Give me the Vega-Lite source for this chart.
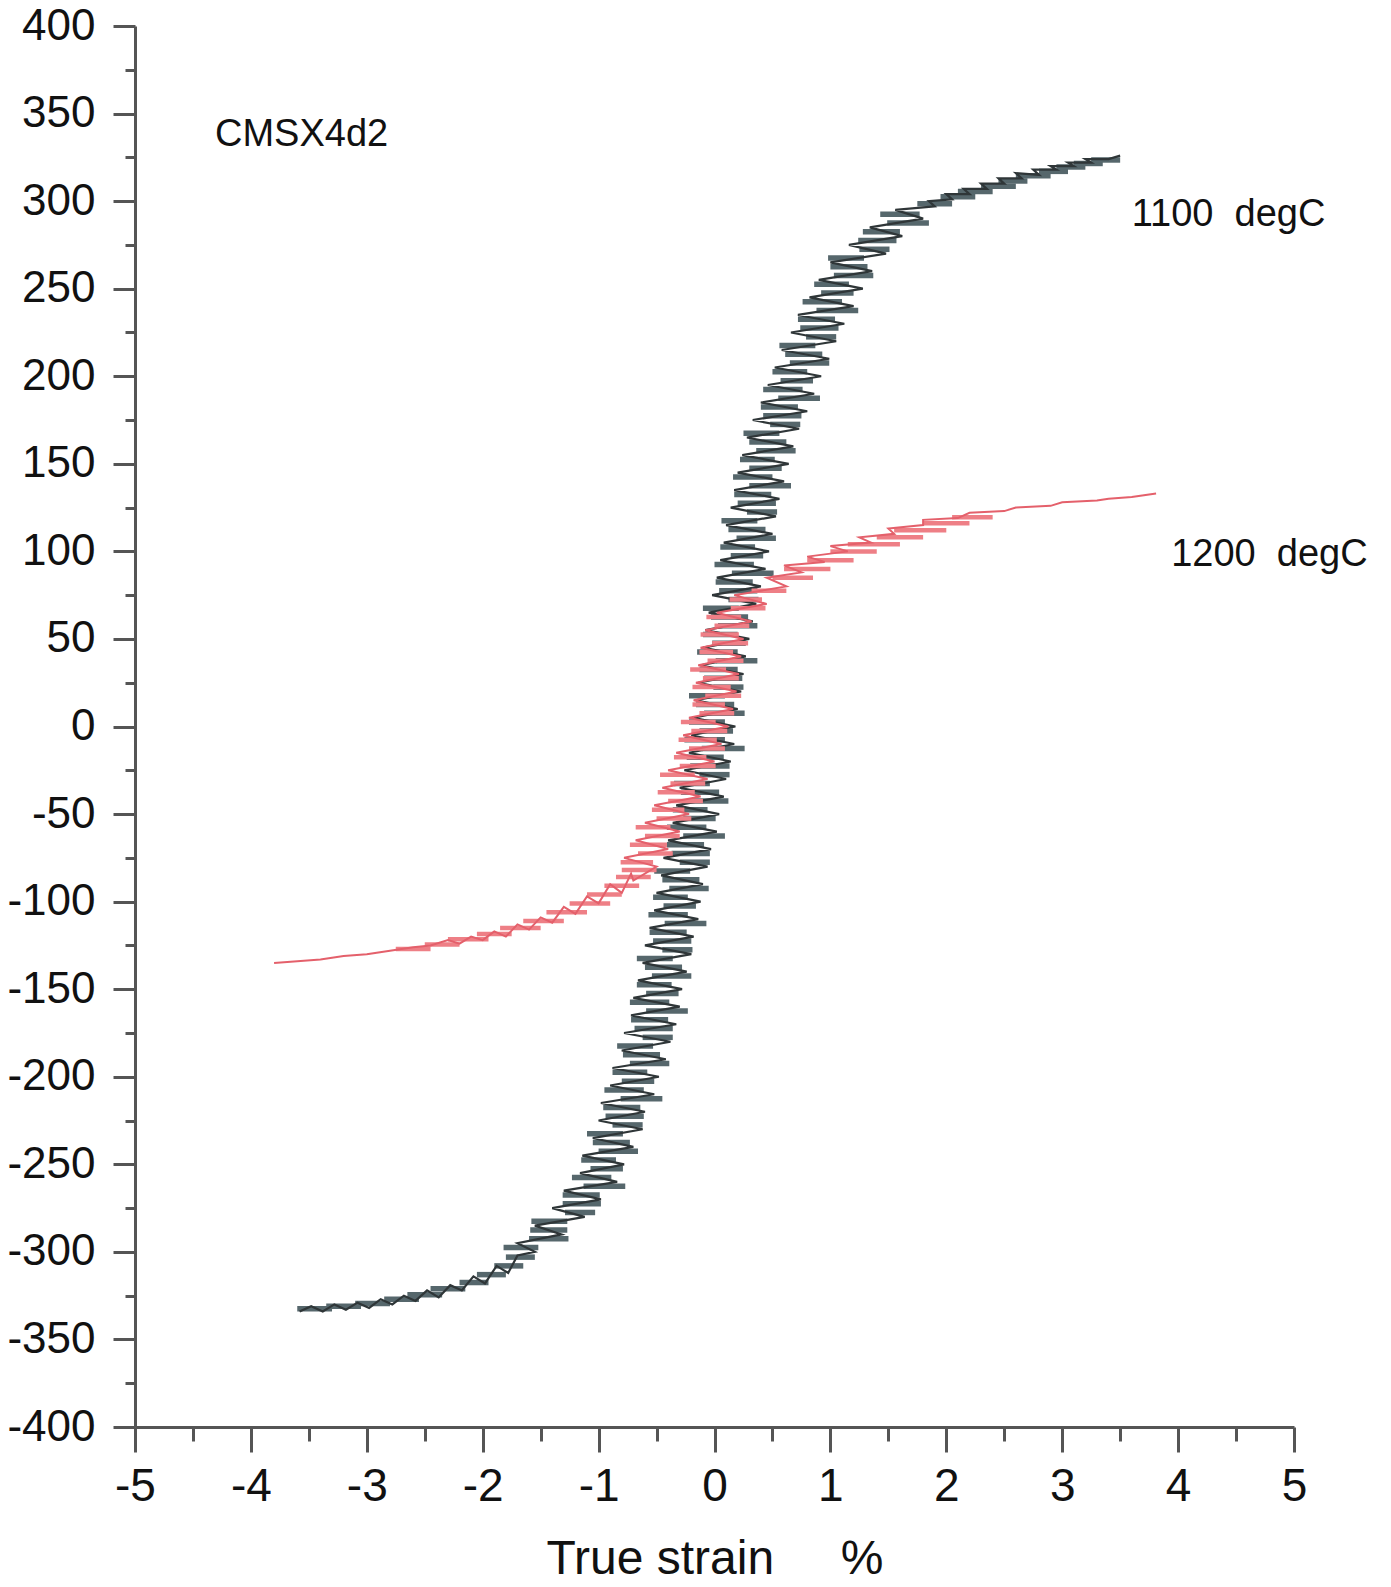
{
  "$schema": "https://vega.github.io/schema/vega-lite/v6.json",
  "autosize": {"type": "none"},
  "padding": {"left": 135, "top": 26, "right": 97, "bottom": 160},
  "width": 1159,
  "height": 1401,
  "background": "#ffffff",
  "config": {"view": {"stroke": null}, "font": "Liberation Sans"},
  "datasets": {
    "c1100": [
      {"x":-3.58,"y":-334},{"x":-3.48,"y":-331},{"x":-3.38,"y":-334},{"x":-3.28,"y":-330},{"x":-3.18,"y":-333},{"x":-3.08,"y":-329},{"x":-2.98,"y":-332},{"x":-2.88,"y":-327},{"x":-2.78,"y":-330},{"x":-2.68,"y":-325},{"x":-2.58,"y":-328},{"x":-2.48,"y":-322},{"x":-2.38,"y":-326},{"x":-2.28,"y":-319},{"x":-2.18,"y":-322},{"x":-2.08,"y":-314},{"x":-1.98,"y":-318},{"x":-1.88,"y":-308},{"x":-1.78,"y":-312},{"x":-1.70,"y":-302},
      {"x":-1.55,"y":-300},{"x":-1.70,"y":-295},{"x":-1.32,"y":-290},{"x":-1.55,"y":-285},{"x":-1.12,"y":-280},{"x":-1.40,"y":-275},{"x":-0.98,"y":-270},{"x":-1.30,"y":-265},{"x":-0.84,"y":-260},{"x":-1.16,"y":-255},
      {"x":-0.78,"y":-250},{"x":-1.14,"y":-245},{"x":-0.70,"y":-240},{"x":-1.05,"y":-235},{"x":-0.62,"y":-230},{"x":-1.00,"y":-225},{"x":-0.60,"y":-220},{"x":-0.98,"y":-215},{"x":-0.52,"y":-210},{"x":-0.90,"y":-205},
      {"x":-0.48,"y":-200},{"x":-0.88,"y":-195},{"x":-0.42,"y":-190},{"x":-0.80,"y":-185},{"x":-0.38,"y":-180},{"x":-0.78,"y":-175},{"x":-0.33,"y":-170},{"x":-0.72,"y":-165},{"x":-0.30,"y":-160},{"x":-0.70,"y":-155},
      {"x":-0.28,"y":-150},{"x":-0.66,"y":-145},{"x":-0.24,"y":-140},{"x":-0.62,"y":-135},{"x":-0.20,"y":-130},{"x":-0.60,"y":-125},{"x":-0.18,"y":-120},{"x":-0.56,"y":-115},{"x":-0.14,"y":-110},{"x":-0.52,"y":-105},
      {"x":-0.12,"y":-100},{"x":-0.50,"y":-95},{"x":-0.10,"y":-90},{"x":-0.46,"y":-85},{"x":-0.06,"y":-80},{"x":-0.44,"y":-75},{"x":-0.03,"y":-70},{"x":-0.40,"y":-65},{"x":0.02,"y":-60},{"x":-0.36,"y":-55},
      {"x":0.04,"y":-50},{"x":-0.33,"y":-45},{"x":0.08,"y":-40},{"x":-0.30,"y":-35},{"x":0.10,"y":-30},{"x":-0.26,"y":-25},{"x":0.14,"y":-20},{"x":-0.22,"y":-15},{"x":0.17,"y":-10},{"x":-0.20,"y":-5},
      {"x":0.18,"y":0},{"x":-0.18,"y":5},{"x":0.20,"y":10},{"x":-0.16,"y":15},{"x":0.23,"y":20},{"x":-0.14,"y":25},{"x":0.25,"y":30},{"x":-0.12,"y":35},{"x":0.27,"y":40},{"x":-0.10,"y":45},
      {"x":0.30,"y":50},{"x":-0.08,"y":55},{"x":0.33,"y":60},{"x":-0.05,"y":65},{"x":0.36,"y":70},{"x":-0.02,"y":75},{"x":0.40,"y":80},{"x":0.02,"y":85},{"x":0.44,"y":90},{"x":0.05,"y":95},
      {"x":0.47,"y":100},{"x":0.08,"y":105},{"x":0.50,"y":110},{"x":0.10,"y":115},{"x":0.53,"y":120},{"x":0.14,"y":125},{"x":0.56,"y":130},{"x":0.17,"y":135},{"x":0.60,"y":140},{"x":0.20,"y":145},
      {"x":0.64,"y":150},{"x":0.24,"y":155},{"x":0.68,"y":160},{"x":0.28,"y":165},{"x":0.73,"y":170},{"x":0.33,"y":175},{"x":0.80,"y":180},{"x":0.40,"y":185},{"x":0.86,"y":190},{"x":0.46,"y":195},
      {"x":0.92,"y":200},{"x":0.52,"y":205},{"x":0.99,"y":210},{"x":0.58,"y":215},{"x":1.05,"y":220},{"x":0.66,"y":225},{"x":1.12,"y":230},{"x":0.72,"y":235},{"x":1.20,"y":240},{"x":0.82,"y":245},
      {"x":1.28,"y":250},{"x":0.90,"y":255},{"x":1.36,"y":260},{"x":1.00,"y":265},{"x":1.48,"y":270},{"x":1.16,"y":275},{"x":1.62,"y":280},{"x":1.34,"y":285},{"x":1.80,"y":290},{"x":1.56,"y":295},
      {"x":1.90,"y":297},{"x":1.85,"y":300},{"x":2.05,"y":301},{"x":2.00,"y":304},{"x":2.20,"y":304},{"x":2.15,"y":307},{"x":2.35,"y":307},{"x":2.30,"y":310},{"x":2.50,"y":310},{"x":2.45,"y":313},
      {"x":2.65,"y":313},{"x":2.60,"y":316},{"x":2.80,"y":315},{"x":2.75,"y":318},{"x":2.95,"y":318},{"x":2.90,"y":320},{"x":3.10,"y":320},{"x":3.05,"y":322},{"x":3.25,"y":322},{"x":3.20,"y":324},{"x":3.40,"y":324},{"x":3.50,"y":326}
    ],
    "d1100": [
      {"y":-332.5,"a":-3.6,"b":-3.3},{"y":-331,"a":-3.35,"b":-3.05},{"y":-329.5,"a":-3.1,"b":-2.8},{"y":-327,"a":-2.85,"b":-2.55},{"y":-324.5,"a":-2.65,"b":-2.35},{"y":-321,"a":-2.45,"b":-2.15},{"y":-317.5,"a":-2.2,"b":-1.95},{"y":-313,"a":-2.05,"b":-1.8},{"y":-308,"a":-1.9,"b":-1.65},{"y":-303,"a":-1.8,"b":-1.55},
      {"y":-297.5,"a":-1.82,"b":-1.52},{"y":-292.5,"a":-1.60,"b":-1.26},{"y":-287.5,"a":-1.59,"b":-1.27},{"y":-282.5,"a":-1.58,"b":-1.27},{"y":-277.5,"a":-1.29,"b":-1.03},{"y":-272.5,"a":-1.31,"b":-0.98},{"y":-267.5,"a":-1.31,"b":-0.99},{"y":-262.5,"a":-1.13,"b":-0.77},{"y":-257.5,"a":-1.23,"b":-0.89},{"y":-252.5,"a":-1.07,"b":-0.79},
      {"y":-247.5,"a":-1.15,"b":-0.85},{"y":-242.5,"a":-1.00,"b":-0.66},{"y":-237.5,"a":-1.05,"b":-0.73},{"y":-232.5,"a":-1.10,"b":-0.79},{"y":-227.5,"a":-0.88,"b":-0.62},{"y":-222.5,"a":-0.94,"b":-0.61},{"y":-217.5,"a":-0.96,"b":-0.64},{"y":-212.5,"a":-0.81,"b":-0.45},{"y":-207.5,"a":-0.95,"b":-0.61},{"y":-202.5,"a":-0.80,"b":-0.52},
      {"y":-197.5,"a":-0.88,"b":-0.58},{"y":-192.5,"a":-0.73,"b":-0.39},{"y":-187.5,"a":-0.79,"b":-0.47},{"y":-182.5,"a":-0.84,"b":-0.53},{"y":-177.5,"a":-0.62,"b":-0.36},{"y":-172.5,"a":-0.69,"b":-0.36},{"y":-167.5,"a":-0.72,"b":-0.40},{"y":-162.5,"a":-0.59,"b":-0.23},{"y":-157.5,"a":-0.73,"b":-0.39},{"y":-152.5,"a":-0.59,"b":-0.31},
      {"y":-147.5,"a":-0.67,"b":-0.37},{"y":-142.5,"a":-0.54,"b":-0.20},{"y":-137.5,"a":-0.60,"b":-0.28},{"y":-132.5,"a":-0.67,"b":-0.36},{"y":-127.5,"a":-0.45,"b":-0.19},{"y":-122.5,"a":-0.53,"b":-0.20},{"y":-117.5,"a":-0.56,"b":-0.24},{"y":-112.5,"a":-0.43,"b":-0.07},{"y":-107.5,"a":-0.57,"b":-0.23},{"y":-102.5,"a":-0.44,"b":-0.16},
      {"y":-97.5,"a":-0.53,"b":-0.23},{"y":-92.5,"a":-0.39,"b":-0.05},{"y":-87.5,"a":-0.45,"b":-0.13},{"y":-82.5,"a":-0.52,"b":-0.21},{"y":-77.5,"a":-0.30,"b":-0.04},{"y":-72.5,"a":-0.37,"b":-0.04},{"y":-67.5,"a":-0.41,"b":-0.09},{"y":-62.5,"a":-0.27,"b":0.09},{"y":-57.5,"a":-0.41,"b":-0.07},{"y":-52.5,"a":-0.27,"b":0.01},
      {"y":-47.5,"a":-0.36,"b":-0.06},{"y":-42.5,"a":-0.22,"b":0.12},{"y":-37.5,"a":-0.29,"b":0.04},{"y":-32.5,"a":-0.35,"b":-0.04},{"y":-27.5,"a":-0.13,"b":0.13},{"y":-22.5,"a":-0.21,"b":0.13},{"y":-17.5,"a":-0.24,"b":0.08},{"y":-12.5,"a":-0.11,"b":0.26},{"y":-7.5,"a":-0.26,"b":0.09},{"y":-2.5,"a":-0.13,"b":0.16},
      {"y":2.5,"a":-0.22,"b":0.09},{"y":7.5,"a":-0.09,"b":0.26},{"y":12.5,"a":-0.16,"b":0.17},{"y":17.5,"a":-0.22,"b":0.09},{"y":22.5,"a":-0.01,"b":0.25},{"y":27.5,"a":-0.09,"b":0.24},{"y":32.5,"a":-0.13,"b":0.20},{"y":37.5,"a":0.01,"b":0.37},{"y":42.5,"a":-0.15,"b":0.20},{"y":47.5,"a":-0.02,"b":0.27},
      {"y":52.5,"a":-0.10,"b":0.20},{"y":57.5,"a":0.03,"b":0.37},{"y":62.5,"a":-0.03,"b":0.29},{"y":67.5,"a":-0.10,"b":0.21},{"y":72.5,"a":0.12,"b":0.38},{"y":77.5,"a":0.04,"b":0.37},{"y":82.5,"a":0.01,"b":0.33},{"y":87.5,"a":0.15,"b":0.51},{"y":92.5,"a":0.00,"b":0.34},{"y":97.5,"a":0.14,"b":0.42},
      {"y":102.5,"a":0.05,"b":0.35},{"y":107.5,"a":0.19,"b":0.53},{"y":112.5,"a":0.12,"b":0.44},{"y":117.5,"a":0.06,"b":0.37},{"y":122.5,"a":0.28,"b":0.54},{"y":127.5,"a":0.20,"b":0.53},{"y":132.5,"a":0.17,"b":0.49},{"y":137.5,"a":0.30,"b":0.66},{"y":142.5,"a":0.16,"b":0.50},{"y":147.5,"a":0.30,"b":0.58},
      {"y":152.5,"a":0.22,"b":0.52},{"y":157.5,"a":0.36,"b":0.70},{"y":162.5,"a":0.30,"b":0.62},{"y":167.5,"a":0.25,"b":0.56},{"y":172.5,"a":0.48,"b":0.74},{"y":177.5,"a":0.42,"b":0.75},{"y":182.5,"a":0.40,"b":0.72},{"y":187.5,"a":0.55,"b":0.91},{"y":192.5,"a":0.42,"b":0.76},{"y":197.5,"a":0.57,"b":0.85},
      {"y":202.5,"a":0.50,"b":0.80},{"y":207.5,"a":0.65,"b":0.99},{"y":212.5,"a":0.61,"b":0.93},{"y":217.5,"a":0.56,"b":0.87},{"y":222.5,"a":0.79,"b":1.05},{"y":227.5,"a":0.74,"b":1.07},{"y":232.5,"a":0.72,"b":1.04},{"y":237.5,"a":0.88,"b":1.24},{"y":242.5,"a":0.76,"b":1.10},{"y":247.5,"a":0.92,"b":1.20},
      {"y":252.5,"a":0.86,"b":1.16},{"y":257.5,"a":1.03,"b":1.37},{"y":262.5,"a":1.00,"b":1.32},{"y":267.5,"a":0.98,"b":1.29},{"y":272.5,"a":1.25,"b":1.51},{"y":277.5,"a":1.24,"b":1.57},{"y":282.5,"a":1.28,"b":1.60},{"y":287.5,"a":1.49,"b":1.85},{"y":292.5,"a":1.43,"b":1.77},
      {"y":298.5,"a":1.75,"b":2.05},{"y":302.5,"a":1.95,"b":2.25},{"y":305.5,"a":2.10,"b":2.40},{"y":308.5,"a":2.30,"b":2.60},{"y":311.5,"a":2.45,"b":2.70},{"y":314.5,"a":2.60,"b":2.90},{"y":317,"a":2.80,"b":3.05},{"y":319.5,"a":2.95,"b":3.20},{"y":321.5,"a":3.10,"b":3.35},{"y":323.5,"a":3.25,"b":3.50}
    ],
    "c1200": [
      {"x":-3.80,"y":-135},{"x":-3.60,"y":-134},{"x":-3.40,"y":-133},{"x":-3.20,"y":-131},{"x":-3.00,"y":-130},{"x":-2.80,"y":-128},{"x":-2.60,"y":-126},{"x":-2.45,"y":-125},{"x":-2.30,"y":-122},{"x":-2.20,"y":-124},
      {"x":-2.10,"y":-120},{"x":-2.00,"y":-122},{"x":-1.90,"y":-117},{"x":-1.80,"y":-120},{"x":-1.70,"y":-113},{"x":-1.60,"y":-116},{"x":-1.50,"y":-109},{"x":-1.40,"y":-112},{"x":-1.30,"y":-103},{"x":-1.20,"y":-107},
      {"x":-1.10,"y":-97},{"x":-1.00,"y":-101},{"x":-0.90,"y":-90},{"x":-0.80,"y":-95},{"x":-0.72,"y":-84},{"x":-0.70,"y":-88},
      {"x":-0.50,"y":-80},{"x":-0.78,"y":-75},{"x":-0.40,"y":-70},{"x":-0.68,"y":-65},{"x":-0.30,"y":-60},{"x":-0.60,"y":-55},{"x":-0.22,"y":-50},{"x":-0.52,"y":-45},{"x":-0.12,"y":-40},{"x":-0.45,"y":-35},
      {"x":-0.06,"y":-30},{"x":-0.40,"y":-25},{"x":0.00,"y":-20},{"x":-0.33,"y":-15},{"x":0.06,"y":-10},{"x":-0.27,"y":-5},{"x":0.12,"y":0},{"x":-0.22,"y":5},{"x":0.16,"y":10},{"x":-0.18,"y":15},
      {"x":0.19,"y":20},{"x":-0.16,"y":25},{"x":0.21,"y":30},{"x":-0.14,"y":35},{"x":0.23,"y":40},{"x":-0.12,"y":45},{"x":0.25,"y":50},{"x":-0.08,"y":55},{"x":0.32,"y":60},{"x":0.02,"y":65},
      {"x":0.45,"y":70},{"x":0.17,"y":75},{"x":0.62,"y":80},{"x":0.45,"y":85},{"x":0.75,"y":88},{"x":0.60,"y":92},{"x":0.95,"y":94},{"x":0.80,"y":97},{"x":1.15,"y":100},{"x":1.00,"y":103},
      {"x":1.35,"y":105},{"x":1.25,"y":108},{"x":1.55,"y":110},{"x":1.50,"y":113},{"x":1.80,"y":115},{"x":1.80,"y":118},{"x":2.10,"y":119},{"x":2.20,"y":122},{"x":2.50,"y":123},{"x":2.60,"y":125},
      {"x":2.90,"y":126},{"x":3.00,"y":128},{"x":3.30,"y":129},{"x":3.40,"y":130},{"x":3.60,"y":131},{"x":3.81,"y":133}
    ],
    "d1200": [
      {"y":-127,"a":-2.75,"b":-2.45},{"y":-124.5,"a":-2.50,"b":-2.20},{"y":-121.5,"a":-2.30,"b":-1.95},{"y":-118.5,"a":-2.05,"b":-1.75},{"y":-115,"a":-1.85,"b":-1.50},{"y":-111,"a":-1.65,"b":-1.30},{"y":-106,"a":-1.45,"b":-1.10},{"y":-101,"a":-1.25,"b":-0.90},{"y":-96,"a":-1.10,"b":-0.80},{"y":-91,"a":-0.95,"b":-0.65},{"y":-86,"a":-0.85,"b":-0.55},{"y":-82,"a":-0.80,"b":-0.50},
      {"y":-77.5,"a":-0.81,"b":-0.53},{"y":-72.5,"a":-0.66,"b":-0.36},{"y":-67.5,"a":-0.73,"b":-0.41},{"y":-62.5,"a":-0.60,"b":-0.30},{"y":-57.5,"a":-0.68,"b":-0.38},{"y":-52.5,"a":-0.50,"b":-0.20},{"y":-47.5,"a":-0.54,"b":-0.26},{"y":-42.5,"a":-0.40,"b":-0.10},{"y":-37.5,"a":-0.49,"b":-0.17},{"y":-32.5,"a":-0.38,"b":-0.08},
      {"y":-27.5,"a":-0.47,"b":-0.17},{"y":-22.5,"a":-0.30,"b":0.01},{"y":-17.5,"a":-0.35,"b":-0.07},{"y":-12.5,"a":-0.22,"b":0.09},{"y":-7.5,"a":-0.31,"b":0.02},{"y":-2.5,"a":-0.20,"b":0.11},{"y":2.5,"a":-0.29,"b":0.01},{"y":7.5,"a":-0.13,"b":0.17},{"y":12.5,"a":-0.19,"b":0.09},{"y":17.5,"a":-0.08,"b":0.23},
      {"y":22.5,"a":-0.19,"b":0.14},{"y":27.5,"a":-0.10,"b":0.21},{"y":32.5,"a":-0.21,"b":0.10},{"y":37.5,"a":-0.06,"b":0.25},{"y":42.5,"a":-0.13,"b":0.16},{"y":47.5,"a":-0.02,"b":0.29},{"y":52.5,"a":-0.12,"b":0.21},{"y":57.5,"a":0.00,"b":0.30},{"y":62.5,"a":-0.07,"b":0.23},{"y":67.5,"a":0.14,"b":0.44},
      {"y":72.5,"a":0.13,"b":0.41},{"y":77.5,"a":0.32,"b":0.62},
      {"y":85,"a":0.50,"b":0.85},{"y":90,"a":0.60,"b":1.00},{"y":95,"a":0.80,"b":1.20},{"y":100,"a":1.00,"b":1.40},{"y":104,"a":1.15,"b":1.60},{"y":108,"a":1.40,"b":1.80},{"y":112,"a":1.55,"b":2.00},{"y":116,"a":1.80,"b":2.20},{"y":119.5,"a":2.05,"b":2.40}
    ],
    "labels": [
      {"x":-4.31,"y":338,"t":"CMSX4d2"},
      {"x":3.60,"y":292,"t":"1100\u00a0 degC"},
      {"x":3.94,"y":98,"t":"1200\u00a0 degC"}
    ]
  },
  "layer": [
    {
      "data": {"name": "d1100"},
      "mark": {"type": "rule", "color": "#56676c", "strokeWidth": 5.5, "strokeCap": "butt"},
      "encoding": {
        "x": {
          "field": "a", "type": "quantitative",
          "scale": {"domain": [-5, 5], "nice": false, "zero": false},
          "axis": {
            "values": [-5,-4.5,-4,-3.5,-3,-2.5,-2,-1.5,-1,-0.5,0,0.5,1,1.5,2,2.5,3,3.5,4,4.5,5],
            "labelExpr": "datum.value % 1 === 0 ? toString(datum.value) : ''",
            "tickSize": {"condition": {"test": "datum.value % 1 === 0", "value": 25}, "value": 14},
            "grid": false,
            "domainColor": "#555555", "domainWidth": 3,
            "tickColor": "#555555", "tickWidth": 3,
            "labelFont": "Liberation Sans", "labelFontSize": 46, "labelColor": "#111111",
            "labelPadding": 12, "labelFlush": false, "labelOverlap": false,
            "title": "True strain\u00a0\u00a0\u00a0\u00a0 %",
            "titleFont": "Liberation Sans", "titleFontSize": 48, "titleFontWeight": "normal", "titleColor": "#111111",
            "titlePadding": 26
          }
        },
        "x2": {"field": "b"},
        "y": {
          "field": "y", "type": "quantitative",
          "scale": {"domain": [-400, 400], "nice": false, "zero": false},
          "axis": {
            "values": [-400,-375,-350,-325,-300,-275,-250,-225,-200,-175,-150,-125,-100,-75,-50,-25,0,25,50,75,100,125,150,175,200,225,250,275,300,325,350,375,400],
            "labelExpr": "datum.value % 50 === 0 ? toString(datum.value) : ''",
            "tickSize": {"condition": {"test": "datum.value % 50 === 0", "value": 22}, "value": 10},
            "grid": false,
            "domainColor": "#555555", "domainWidth": 3,
            "tickColor": "#555555", "tickWidth": 3,
            "labelFont": "Liberation Sans", "labelFontSize": 44, "labelColor": "#111111",
            "labelPadding": 18, "labelFlush": false, "labelOverlap": false,
            "title": null
          }
        }
      }
    },
    {
      "data": {"name": "c1100"},
      "mark": {"type": "line", "color": "#2f3638", "strokeWidth": 2.2},
      "encoding": {
        "x": {"field": "x", "type": "quantitative"},
        "y": {"field": "y", "type": "quantitative"},
        "order": {"value": null}
      }
    },
    {
      "data": {"name": "d1200"},
      "mark": {"type": "rule", "color": "#ee7f86", "strokeWidth": 4.5, "strokeCap": "butt"},
      "encoding": {
        "x": {"field": "a", "type": "quantitative"},
        "x2": {"field": "b"},
        "y": {"field": "y", "type": "quantitative"}
      }
    },
    {
      "data": {"name": "c1200"},
      "mark": {"type": "line", "color": "#e4606b", "strokeWidth": 2},
      "encoding": {
        "x": {"field": "x", "type": "quantitative"},
        "y": {"field": "y", "type": "quantitative"},
        "order": {"value": null}
      }
    },
    {
      "data": {"name": "labels"},
      "mark": {"type": "text", "align": "left", "baseline": "middle", "font": "Liberation Sans", "fontSize": 38, "color": "#111111"},
      "encoding": {
        "x": {"field": "x", "type": "quantitative"},
        "y": {"field": "y", "type": "quantitative"},
        "text": {"field": "t"}
      }
    }
  ]
}
